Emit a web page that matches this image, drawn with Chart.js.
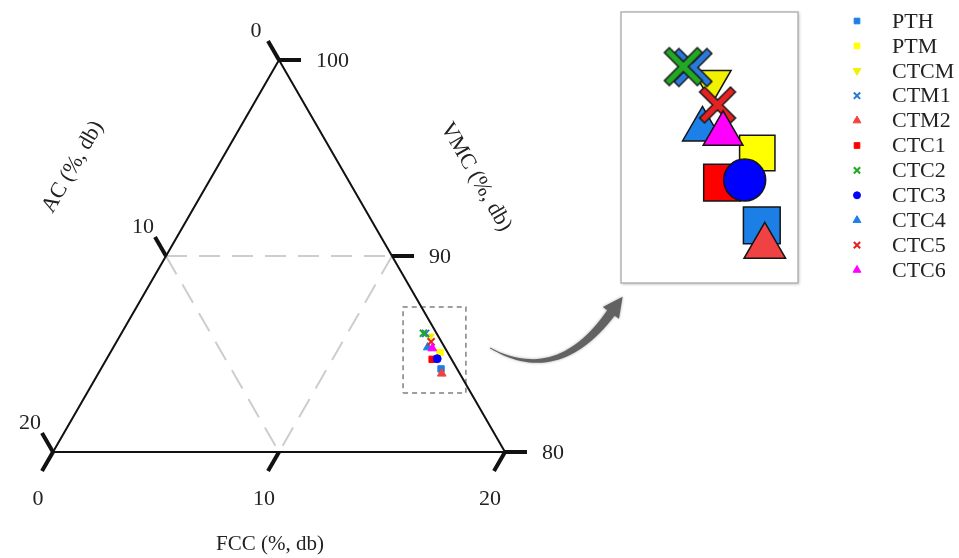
<!DOCTYPE html>
<html>
<head>
<meta charset="utf-8">
<script src="https://cdn.jsdelivr.net/npm/chart.js@4.4.0/dist/chart.umd.min.js"></script>
<style>
  html, body { margin: 0; padding: 0; background: #fff; }
  #wrap { position: relative; width: 959px; height: 558px; }
  #wrap canvas { position: absolute; left: 0; top: 0; }
</style>
</head>
<body>
<div id="wrap">
  <canvas id="ternary" width="959" height="558"></canvas>
  <canvas id="zoomed" width="959" height="558"></canvas>
</div>
<script>
// samples, in legend order
let samples = ['PTH', 'PTM', 'CTCM', 'CTM1', 'CTM2', 'CTC1', 'CTC2', 'CTC3', 'CTC4', 'CTC5', 'CTC6']
// proximate composition (%, db)
let vmc = [84.24, 85.07, 85.89, 86.05, 84.00, 84.73, 86.06, 84.76, 85.34, 85.62, 85.29]
let fcc = [15.05, 14.59, 13.73, 13.46, 15.20, 14.41, 13.36, 14.62, 13.91, 13.92, 14.14]
let ac = [0.71, 0.34, 0.38, 0.49, 0.80, 0.86, 0.58, 0.62, 0.75, 0.46, 0.57]

// part of the ternary shown and its tick labels
let vmcRange = [80, 100]
let fccTicks = [0, 10, 20]
let acTicks = [0, 10, 20]
let vmcTicks = [100, 90, 80]
let gridValue = 10

// region that is magnified in the inset (in triangle x/y units)
let zoomRegionX = [15.49, 18.27]
let zoomRegionY = [2.61, 6.41]
let insetX = [15.77, 17.53]
let insetY = [3.10, 5.79]

// marker styles
let colors = ['#1c7fe6', '#ffff00', '#f2f200', '#2a78d8', '#f04242', '#ff0000', '#22a822', '#0000ff', '#1c80e8', '#e42222', '#ff00ff']
let shapes = ['rect', 'rect', 'triangle', 'crossRot', 'triangle', 'rect', 'crossRot', 'circle', 'triangle', 'crossRot', 'triangle']
let rotations = [0, 0, 180, 0, 0, 0, 0, 0, 0, 0, 0]
let insetSizes = [26, 25, 22, 40, 24, 26, 40, 21, 23, 38, 23]

const SIDE = vmcRange[1] - vmcRange[0]
const H = Math.sqrt(3) / 2
const FONT = "'Liberation Serif', 'Times New Roman', serif"

// ternary (fcc, vmc) -> triangle x/y
function toXY(f, v) {
    let t = v - vmcRange[0]
    return { x: f + t / 2, y: t * H }
}

function smallRadius(shape) {
    if (shape === 'rect') return 4.5
    if (shape === 'circle') return 4
    return 5
}

function makeCross(color, span) {
    let c = document.createElement('canvas')
    let s = span + 4
    c.width = s
    c.height = s
    let g = c.getContext('2d')
    let m = 8
    g.lineCap = 'square'
    g.beginPath()
    g.moveTo(m, m); g.lineTo(s - m, s - m)
    g.moveTo(s - m, m); g.lineTo(m, s - m)
    g.strokeStyle = '#1a1a1a'
    g.lineWidth = 8.5
    g.stroke()
    g.strokeStyle = color
    g.lineWidth = 5.5
    g.stroke()
    return c
}

function seriesData(i) {
    return [toXY(fcc[i], vmc[i])]
}

function lineSet(points, color, width, dash) {
    return {
        data: points,
        showLine: true,
        pointRadius: 0,
        borderColor: color,
        borderWidth: width,
        borderDash: dash || [],
        fill: false,
        order: 20,
        clip: false
    }
}

// ---------- main ternary chart ----------
let mainSets = samples.map((name, i) => ({
    label: name,
    data: seriesData(i),
    pointStyle: shapes[i],
    rotation: rotations[i],
    pointRadius: smallRadius(shapes[i]),
    backgroundColor: colors[i],
    borderColor: colors[i],
    borderWidth: shapes[i] === 'crossRot' ? 2 : 1,
    order: samples.length - i,
    clip: false
}))

let corners = [toXY(0, vmcRange[0]), toXY(SIDE, vmcRange[0]), toXY(0, vmcRange[1]), toXY(0, vmcRange[0])]
mainSets.push(lineSet(corners, '#111', 2))
// dashed grid at 10 on every axis
let g = gridValue
mainSets.push(lineSet([toXY(0, 100 - g), toXY(g, 100 - g)], '#cdcdcd', 2, [21, 12]))
mainSets.push(lineSet([toXY(0, 100 - g), toXY(g, vmcRange[0])], '#cdcdcd', 2, [21, 12]))
mainSets.push(lineSet([toXY(g, 100 - g), toXY(g, vmcRange[0])], '#cdcdcd', 2, [21, 12]))
// box around the magnified region
let zr = [
    { x: zoomRegionX[0], y: zoomRegionY[0] }, { x: zoomRegionX[1], y: zoomRegionY[0] },
    { x: zoomRegionX[1], y: zoomRegionY[1] }, { x: zoomRegionX[0], y: zoomRegionY[1] },
    { x: zoomRegionX[0], y: zoomRegionY[0] }
]
mainSets.push(lineSet(zr, '#808080', 1.5, [5, 4]))

let ternaryAxes = {
    id: 'ternaryAxes',
    afterDatasetsDraw(chart) {
        let ctx = chart.ctx
        let xs = chart.scales.x
        let ys = chart.scales.y
        let px = p => ({ x: xs.getPixelForValue(p.x), y: ys.getPixelForValue(p.y) })
        let len = 22

        function tick(p, dx, dy) {
            ctx.beginPath()
            ctx.moveTo(p.x, p.y)
            ctx.lineTo(p.x + dx * len, p.y + dy * len)
            ctx.stroke()
            return { x: p.x + dx * len, y: p.y + dy * len }
        }

        ctx.save()
        ctx.strokeStyle = '#111'
        ctx.lineWidth = 4
        ctx.fillStyle = '#222'
        ctx.font = '22px ' + FONT
        ctx.textBaseline = 'middle'

        // AC along left edge
        acTicks.forEach(t => {
            let e = tick(px(toXY(0, 100 - t)), -0.5, -H)
            ctx.textAlign = 'center'
            ctx.fillText(String(t), e.x - 12, e.y - 10)
        })
        // VMC along right edge
        vmcTicks.forEach(t => {
            let e = tick(px(toXY(100 - t, t)), 1, 0)
            ctx.textAlign = 'left'
            ctx.fillText(String(t), e.x + 15, e.y + 1)
        })
        // FCC along bottom
        fccTicks.forEach(t => {
            let e = tick(px(toXY(t, vmcRange[0])), -0.5, H)
            ctx.textAlign = 'center'
            ctx.fillText(String(t), e.x - 4, e.y + 28)
        })

        // axis titles
        let leftMid = px(toXY(0, 90))
        let rightMid = px(toXY(10, 90))
        let botMid = px(toXY(10, vmcRange[0]))
        ctx.textAlign = 'center'
        ctx.save()
        ctx.translate(leftMid.x - 93, leftMid.y - 89)
        ctx.rotate(-Math.PI / 3)
        ctx.fillText('AC (%, db)', 0, 0)
        ctx.restore()
        ctx.save()
        ctx.translate(rightMid.x + 84, rightMid.y - 79)
        ctx.rotate(Math.PI / 3)
        ctx.fillText('VMC (%, db)', 0, 0)
        ctx.restore()
        ctx.font = '21px ' + FONT
        ctx.fillText('FCC (%, db)', botMid.x - 9, botMid.y + 92)

        // curved arrow from the zoom box to the inset
        let bx = xs.getPixelForValue(zoomRegionX[1])
        let by = (ys.getPixelForValue(zoomRegionY[0]) + ys.getPixelForValue(zoomRegionY[1])) / 2
        let p0 = { x: bx + 24, y: by - 2 }
        let c = { x: bx + 92, y: by + 36 }
        let p1 = { x: bx + 145, y: by - 37 }
        let q = (t, a, b, d) => (1 - t) * (1 - t) * a + 2 * (1 - t) * t * b + t * t * d
        let upper = [], lower = []
        for (let k = 0; k <= 30; k++) {
            let t = k / 30
            let x = q(t, p0.x, c.x, p1.x), y = q(t, p0.y, c.y, p1.y)
            let tx = 2 * (1 - t) * (c.x - p0.x) + 2 * t * (p1.x - c.x)
            let ty = 2 * (1 - t) * (c.y - p0.y) + 2 * t * (p1.y - c.y)
            let n = Math.hypot(tx, ty)
            let w = 0.4 + 4.2 * t
            upper.push({ x: x - ty / n * w, y: y + tx / n * w })
            lower.push({ x: x + ty / n * w, y: y - tx / n * w })
        }
        let dx = p1.x - c.x, dy = p1.y - c.y, dn = Math.hypot(dx, dy)
        dx /= dn; dy /= dn
        ctx.shadowColor = 'rgba(0,0,0,0.35)'
        ctx.shadowBlur = 3
        ctx.fillStyle = '#626262'
        ctx.beginPath()
        ctx.moveTo(upper[0].x, upper[0].y)
        upper.forEach(p => ctx.lineTo(p.x, p.y))
        ctx.lineTo(p1.x - dy * 10, p1.y + dx * 10)
        ctx.lineTo(p1.x + dx * 20, p1.y + dy * 20)
        ctx.lineTo(p1.x + dy * 10, p1.y - dx * 10)
        lower.reverse().forEach(p => ctx.lineTo(p.x, p.y))
        ctx.closePath()
        ctx.fill()
        ctx.restore()
    }
}

new Chart(document.getElementById('ternary'), {
    type: 'scatter',
    data: { datasets: mainSets },
    options: {
        responsive: false,
        animation: false,
        events: [],
        layout: { autoPadding: false, padding: { left: 53, right: 454, top: 60, bottom: 106 } },
        scales: {
            x: { type: 'linear', min: 0, max: SIDE, display: false },
            y: { type: 'linear', min: 0, max: SIDE * H, display: false }
        },
        plugins: { legend: { display: false }, tooltip: { enabled: false } }
    },
    plugins: [ternaryAxes]
})

// ---------- magnified inset + legend ----------
let insetSets = samples.map((name, i) => ({
    label: name,
    data: seriesData(i),
    pointStyle: shapes[i] === 'crossRot' ? makeCross(colors[i], insetSizes[i]) : shapes[i],
    rotation: rotations[i],
    pointRadius: insetSizes[i],
    backgroundColor: colors[i],
    borderColor: '#151515',
    borderWidth: 1.5,
    order: samples.length - i
}))

let insetFrame = {
    id: 'insetFrame',
    beforeDatasetsDraw(chart) {
        let a = chart.chartArea
        let ctx = chart.ctx
        ctx.save()
        ctx.shadowColor = 'rgba(0,0,0,0.3)'
        ctx.shadowBlur = 3
        ctx.shadowOffsetX = 1
        ctx.shadowOffsetY = 1
        ctx.fillStyle = '#fff'
        ctx.fillRect(a.left, a.top, a.right - a.left, a.bottom - a.top)
        ctx.restore()
        ctx.save()
        ctx.strokeStyle = '#b4b4b4'
        ctx.lineWidth = 1.5
        ctx.strokeRect(a.left, a.top, a.right - a.left, a.bottom - a.top)
        ctx.restore()
    },
    afterDraw(chart) {
        // legend on the right
        let ctx = chart.ctx
        let x0 = chart.chartArea.right + 59
        let y0 = 21
        let step = 24.9
        ctx.save()
        samples.forEach((name, i) => {
            let y = y0 + i * step
            ctx.fillStyle = colors[i]
            ctx.strokeStyle = colors[i]
            ctx.lineWidth = shapes[i] === 'crossRot' ? 2 : 1
            Chart.helpers.drawPoint(ctx, {
                pointStyle: shapes[i],
                rotation: rotations[i],
                radius: smallRadius(shapes[i]) - 0.5,
                borderWidth: ctx.lineWidth
            }, x0, y)
            ctx.fillStyle = '#222'
            ctx.font = '22px ' + FONT
            ctx.textAlign = 'left'
            ctx.textBaseline = 'middle'
            ctx.fillText(name, x0 + 35, y + 1)
        })
        ctx.restore()
    }
}

new Chart(document.getElementById('zoomed'), {
    type: 'scatter',
    data: { datasets: insetSets },
    options: {
        responsive: false,
        animation: false,
        events: [],
        layout: { autoPadding: false, padding: { left: 621, right: 161, top: 12, bottom: 275 } },
        scales: {
            x: { type: 'linear', min: insetX[0], max: insetX[1], display: false },
            y: { type: 'linear', min: insetY[0], max: insetY[1], display: false }
        },
        plugins: { legend: { display: false }, tooltip: { enabled: false } }
    },
    plugins: [insetFrame]
})
</script>
</body>
</html>
